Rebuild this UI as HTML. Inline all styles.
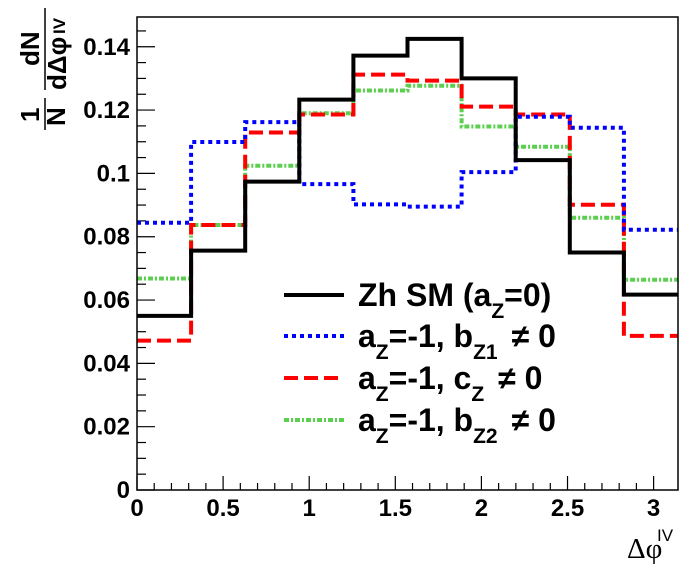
<!DOCTYPE html>
<html><head><meta charset="utf-8"><style>
html,body{margin:0;padding:0;background:#fff}
svg{display:block}
text{font-family:"Liberation Sans",sans-serif;font-weight:bold}
</style></head><body>
<svg id="chart" width="696" height="574" viewBox="0 0 696 574" xmlns="http://www.w3.org/2000/svg">
<rect x="0" y="0" width="696" height="574" fill="#fff"/>
<g id="axes"></g>
<g id="series"></g>
<rect x="137" y="17" width="541" height="473" fill="none" stroke="#000" stroke-width="1.5"/>
<g>
  <text transform="translate(39,122) rotate(-90)" font-size="26">1</text>
  <line x1="45" y1="98" x2="45" y2="130" stroke="#000" stroke-width="1.5"/>
  <text transform="translate(65,126) rotate(-90)" font-size="26">N</text>
  <text transform="translate(39,66) rotate(-90)" font-size="26">dN</text>
  <line x1="45" y1="8" x2="45" y2="90" stroke="#000" stroke-width="1.5"/>
  <text transform="translate(66,90) rotate(-90)" font-size="26">dΔφ</text>
  <text transform="translate(65,34) rotate(-90)" font-size="17">IV</text>
</g>
<g>
  <text x="627" y="558" font-size="29" style="font-family:'Liberation Serif',serif;font-weight:normal">Δφ</text>
  <text x="657" y="541" font-size="17" style="font-family:'Liberation Sans',sans-serif;font-weight:normal">IV</text>
</g>
<g id="legend"></g>
</svg>
<script>
const categories = ["bin1","bin2","bin3","bin4","bin5","bin6","bin7","bin8","bin9","bin10"];
const smValues = [0.055,0.0756,0.0974,0.1233,0.1372,0.1425,0.130,0.1042,0.075,0.0617];
const bz1Values = [0.0844,0.1099,0.1162,0.0966,0.0902,0.0895,0.1004,0.1179,0.1144,0.0822];
const czValues = [0.0472,0.0837,0.1129,0.1186,0.1312,0.1293,0.1211,0.1186,0.0901,0.0487];
const bz2Values = [0.0668,0.0837,0.1024,0.119,0.1262,0.1277,0.1148,0.1084,0.086,0.0664];
const yTickLabels = ["0","0.02","0.04","0.06","0.08","0.1","0.12","0.14"];
const xTickLabels = ["0","0.5","1","1.5","2","2.5","3"];

const NS="http://www.w3.org/2000/svg";
const X0=137,X1=678,Y0=490,Y1=17,XMAX=Math.PI,YMAX=0.1494;
function xs(v){return X0+(v/XMAX)*(X1-X0);}
function ys(v){return Y0-(v/YMAX)*(Y0-Y1);}
function mk(tag,attrs,parent){const e=document.createElementNS(NS,tag);for(const k in attrs)e.setAttribute(k,attrs[k]);parent.appendChild(e);return e;}
const axes=document.getElementById('axes');
for(let i=0;i*0.005<=0.1495;i++){const v=i*0.005;const major=i%4===0;
  const t=mk('line',{x1:X0,x2:X0+(major?18:9),y1:ys(v),y2:ys(v),stroke:'#000','stroke-width':1.2},axes);
  
  }
for(let i=0;i<=30;i++){const v=i*0.1;if(v>XMAX)break;const major=i%5===0;
  const t=mk('line',{x1:xs(v),x2:xs(v),y1:Y0,y2:Y0-(major?14:7),stroke:'#000','stroke-width':1.2},axes);
  
  }
yTickLabels.forEach(function(l){const v=parseFloat(l);
  const t=mk('text',{x:130,y:ys(v)+8,'text-anchor':'end','font-size':24},axes);t.textContent=l;
  
  });
xTickLabels.forEach(function(l){const v=parseFloat(l);
  const t=mk('text',{x:xs(v),y:516,'text-anchor':'middle','font-size':24},axes);t.textContent=l;
  
  });
const seriesG=document.getElementById('series');
const bw=XMAX/categories.length;
function hist(vals,color,dash,w,name){
  let d='';
  vals.forEach(function(v,i){const a=xs(i*bw),b=xs((i+1)*bw),y=ys(v);
    d+=(i===0?'M'+a+','+y:'L'+a+','+y)+' L'+b+','+y+' ';});
  const p=mk('path',{d:d,fill:'none',stroke:color,'stroke-width':w,'stroke-dasharray':dash},seriesG);
  
  
}
hist(bz2Values,'#5ccf50','5,2,2,2',4,'series-bz2');
hist(czValues,'#ff0000','14,6',4,'series-cz');
hist(bz1Values,'#0000ff','4,4',4,'series-bz1');
hist(smValues,'#000','',4,'series-sm');
const lg=document.getElementById('legend');
const entries=[
 {c:'#000',d:'',y:295,txt:['Zh SM (a','Z','=0)',''],gap:0},
 {c:'#0000ff',d:'4,4',y:336,txt:['a','Z','=-1, b','Z1','≠ 0'],gap:14},
 {c:'#ff0000',d:'14,6',y:378,txt:['a','Z','=-1, c','Z','≠ 0'],gap:14},
 {c:'#5ccf50',d:'5,2,2,2',y:420,txt:['a','Z','=-1, b','Z2','≠ 0'],gap:14}];
entries.forEach(function(e){
  const g=mk('g',{},lg);
  
  
  mk('line',{x1:284,x2:344,y1:e.y,y2:e.y,stroke:e.c,'stroke-width':4,'stroke-dasharray':e.d},g);
  const t=mk('text',{x:358,y:e.y+11,'font-size':32},g);
  const parts=e.txt;
  for(let i=0;i<parts.length;i++){if(!parts[i])continue;
    const s=document.createElementNS(NS,'tspan');
    if(i%2===1){s.setAttribute('font-size','21');s.setAttribute('dy','12');}
    else if(i>0){s.setAttribute('dy','-12');if(i===4)s.setAttribute('dx',e.gap);}
    s.textContent=parts[i];t.appendChild(s);}
});
</script>
</body></html>
